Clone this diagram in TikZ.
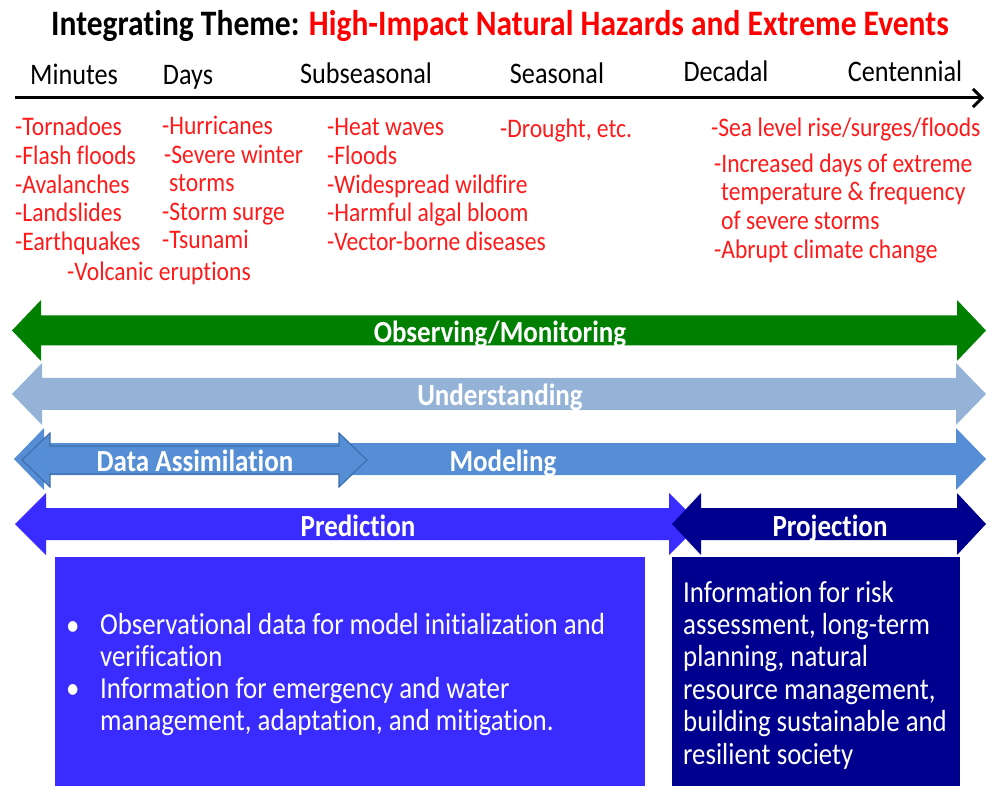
\documentclass[tikz,border=0pt]{standalone}
\usepackage{fontspec}
\setmainfont{Carlito}[FakeStretch=0.88,Ligatures=NoCommon]
\usetikzlibrary{arrows.meta}

\definecolor{obsgreen}{HTML}{008000}
\definecolor{undblue}{HTML}{95B3D7}
\definecolor{modblue}{HTML}{558ED5}
\definecolor{modedge}{HTML}{3F6FAE}
\definecolor{predblue}{HTML}{3A2BFF}
\definecolor{projblue}{HTML}{00008E}
\definecolor{hazred}{HTML}{FF1A1A}

% fill, left tip, right tip, centre y, shaft half, head half, head length
\newcommand{\hband}[7]{%
  \fill[#1] (#2,#4) -- ++(#7,-#6) -- ++(0,#6-#5) -- (#3-#7,#4-#5) -- ++(0,#5-#6)
    -- (#3,#4) -- (#3-#7,#4+#6) -- ++(0,#5-#6) -- (#2+#7,#4+#5) -- ++(0,#6-#5) -- cycle;}

\begin{document}
\begin{tikzpicture}[x=1pt,y=-1pt]
\tikzstyle{tick}=[anchor=base,inner sep=0pt,font=\fontsize{29.8}{34}\selectfont]
\tikzstyle{hazard}=[anchor=base west,inner sep=0pt,text=hazred,font=\fontsize{26.8}{31}\selectfont]
\tikzstyle{bandlabel}=[text=white,inner sep=0pt,font=\bfseries\fontsize{30.7}{34}\selectfont]
\tikzstyle{infotext}=[anchor=base west,inner sep=0pt,text=white,align=left,font=\fontsize{30.5}{32}\selectfont]
\useasboundingbox (0,0) rectangle (986,786);

% title and time axis
\node[inner sep=0pt,anchor=base] (title) at (500,36) {\bfseries\fontsize{35.8}{40}\selectfont Integrating Theme: \textcolor{red}{High-Impact Natural Hazards and Extreme Events}};
\node[tick] (minutes) at (74,85) {Minutes};
\node[tick] (days) at (188,85) {Days};
\node[tick] (subseas) at (366,84) {Subseasonal};
\node[tick] (seas) at (557,84) {Seasonal};
\node[tick] (decadal) at (726,82) {Decadal};
\node[tick] (centen) at (905,82) {Centennial};
\coordinate (t0) at (15,98);
\coordinate (t1) at (984,98);
\draw[line width=3pt,-{Straight Barb[length=9pt,width=18pt]}] (t0) -- (t1);

% hazards
\node[hazard] (h1) at (15,136) {-Tornadoes};
\node[hazard] (h2) at (15,165) {-Flash floods};
\node[hazard] (h3) at (15,194) {-Avalanches};
\node[hazard] (h4) at (15,222) {-Landslides};
\node[hazard] (h5) at (15,251) {-Earthquakes};
\node[hazard] (h6) at (67,281) {-Volcanic eruptions};
\node[hazard] (h7) at (162,135) {-Hurricanes};
\node[hazard] (h8) at (164,164) {-Severe winter};
\node[hazard] (h9) at (169,192) {storms};
\node[hazard] (h10) at (162,221) {-Storm surge};
\node[hazard] (h11) at (162,249) {-Tsunami};
\node[hazard] (h12) at (327,136) {-Heat waves};
\node[hazard] (h13) at (327,165) {-Floods};
\node[hazard] (h14) at (327,194) {-Widespread wildfire};
\node[hazard] (h15) at (327,222) {-Harmful algal bloom};
\node[hazard] (h16) at (327,251) {-Vector-borne diseases};
\node[hazard] (h17) at (500,138) {-Drought, etc.};
\node[hazard] (h18) at (711,137) {-Sea level rise/surges/floods};
\node[hazard] (h19) at (714,173) {-Increased days of extreme};
\node[hazard] (h20) at (721,201) {temperature \& frequency};
\node[hazard] (h21) at (721,230) {of severe storms};
\node[hazard] (h22) at (714,259) {-Abrupt climate change};

% bands
\hband{obsgreen}{12}{986}{330.5}{15}{30.5}{29}
\hband{undblue}{12}{986}{394}{16}{31}{30}
\hband{modblue}{14}{986}{459}{16}{31}{30}
\hband{fill=modblue,draw=modedge,line width=1.2pt}{22}{367}{460}{14}{27}{28}
\hband{predblue}{15}{700}{524}{16}{31}{31}
\hband{projblue}{672}{986}{524}{16}{31}{29}
\node[bandlabel] (obs) at (500,334) {Observing/Monitoring};
\node[bandlabel] (und) at (500,397) {Understanding};
\node[bandlabel] (mod) at (503,463) {Modeling};
\node[bandlabel] (dataas) at (195,461) {Data Assimilation};
\node[bandlabel] (pred) at (358,526) {Prediction};
\node[bandlabel] (proj) at (830,528) {Projection};

% information boxes
\fill[predblue] (55,557) rectangle (645,786);
\fill[projblue] (672,557) rectangle (960,786);
\node[infotext] (b1) at (66,635) {\textbullet};
\node[infotext] (i1) at (100,666) {Observational data for model initialization and\\verification};
\node[infotext] (b2) at (66,698) {\textbullet};
\node[infotext] (i2) at (100,730) {Information for emergency and water\\management, adaptation, and mitigation.};
\node[infotext,font=\fontsize{30.5}{32.4}\selectfont] (i3) at (683,764) {Information for risk\\assessment, long-term\\planning, natural\\resource management,\\building sustainable and\\resilient society};
\end{tikzpicture}
\end{document}
